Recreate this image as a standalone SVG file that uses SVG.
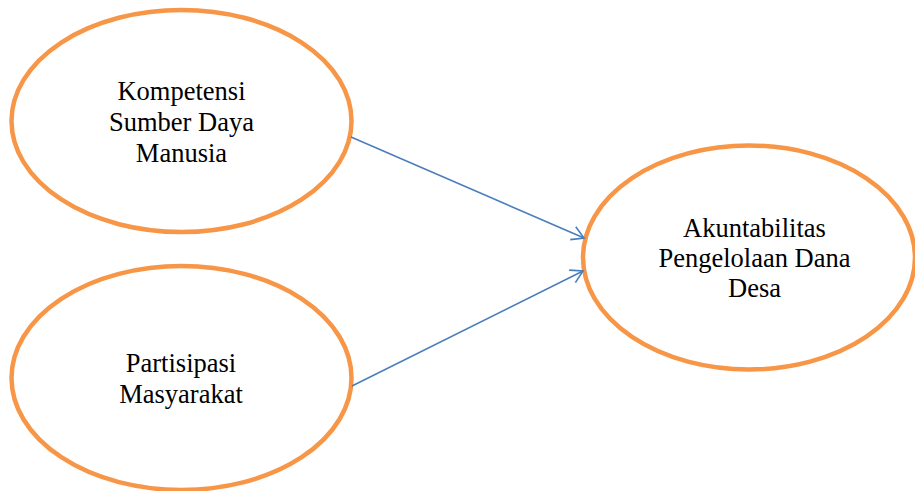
<svg xmlns="http://www.w3.org/2000/svg" width="915" height="491" viewBox="0 0 915 491">
<style>
.node{fill:#fff;stroke:#F79646;stroke-width:4.5}
.lbl{font-size:26.5px;fill:#000;text-anchor:middle}
.edge{stroke:#4A7EBB;stroke-width:1.6;fill:none}
</style>
<defs>
<marker id="arr" markerWidth="20" markerHeight="20" refX="15" refY="10" orient="auto" markerUnits="userSpaceOnUse">
<path d="M3,3 L15,10 L3,17" fill="none" stroke="#4A7EBB" stroke-width="1.6"/>
</marker>
</defs>
<rect width="915" height="491" fill="#fff"/>
<g font-family="Liberation Serif, Times New Roman, DejaVu Serif, serif">
<g id="node-ksdm">
<ellipse class="node" cx="181.5" cy="121" rx="170" ry="111"/>
<text class="lbl" x="181.5" y="100">Kompetensi</text>
<text class="lbl" x="181.5" y="131">Sumber Daya</text>
<text class="lbl" x="181.5" y="162">Manusia</text>
</g>
<g id="node-pm">
<ellipse class="node" cx="181.5" cy="378" rx="170" ry="112"/>
<text class="lbl" x="181" y="372">Partisipasi</text>
<text class="lbl" x="181" y="403">Masyarakat</text>
</g>
<g id="node-apdd">
<ellipse class="node" cx="749" cy="257.5" rx="166" ry="112"/>
<text class="lbl" x="754.5" y="237">Akuntabilitas</text>
<text class="lbl" x="754.5" y="267">Pengelolaan Dana</text>
<text class="lbl" x="754.5" y="297">Desa</text>
</g>
</g>
<g id="connectors">
<line class="edge" x1="351" y1="137" x2="584" y2="238" marker-end="url(#arr)"/>
<line class="edge" x1="352" y1="386" x2="583" y2="271" marker-end="url(#arr)"/>
</g>
</svg>
